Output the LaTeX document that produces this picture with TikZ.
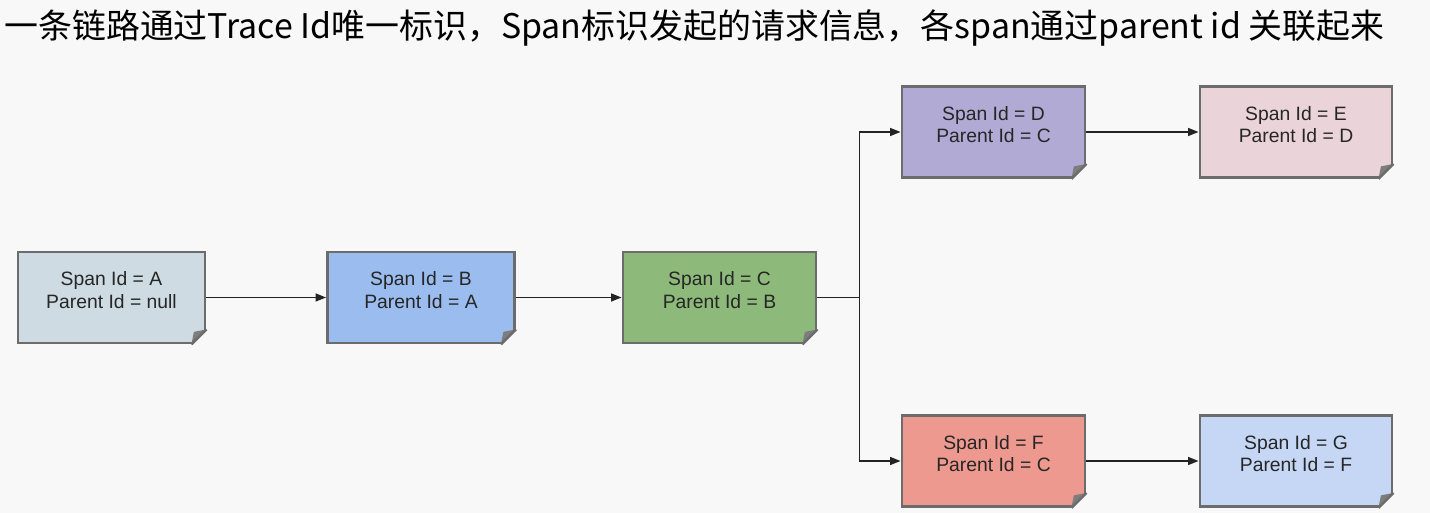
\documentclass[tikz,border=0pt]{standalone}
\usepackage{fontspec}
\usepackage{xcolor}
\usetikzlibrary{arrows.meta,calc}
\setmainfont{Liberation Sans}
\newfontfamily\cjk{Noto Sans CJK SC}
\definecolor{pagebg}{RGB}{248,248,248}
\definecolor{noteborder}{RGB}{108,108,108}
\definecolor{foldgray}{RGB}{125,125,125}
\definecolor{linkgray}{RGB}{35,35,35}
\definecolor{spanA}{RGB}{206,219,226}
\definecolor{spanB}{RGB}{154,188,238}
\definecolor{spanC}{RGB}{141,186,122}
\definecolor{spanD}{RGB}{177,170,212}
\definecolor{spanE}{RGB}{234,212,218}
\definecolor{spanF}{RGB}{238,153,143}
\definecolor{spanG}{RGB}{197,215,245}

\begin{document}
\begin{tikzpicture}[
    >={Triangle[length=6pt, width=4.5pt]},
    spannote/.style={draw=noteborder, line width=1.6pt, minimum width=3.74cm, minimum height=1.82cm,
        align=center, font=\fontsize{11}{13}\selectfont, text=black!85, text depth=0.3cm, inner sep=2pt},
    link/.style={draw=linkgray, line width=0.9pt, ->}
]

% Page background
\fill[pagebg] (0,0) rectangle (28.6,-10.26);
\useasboundingbox (0,0) rectangle (28.6,-10.26);

% Title
\node[anchor=west, inner sep=0pt, font=\cjk\fontsize{19.3}{22}\selectfont, text=black] (title) at (0.08,-0.55)
    {一条链路通过Trace Id唯一标识，Span标识发起的请求信息，各span通过parent id 关联起来};

% COLUMNS / ROWS
\def\colA{2.23}
\def\colB{8.42}
\def\colC{14.39}
\def\colD{19.87}
\def\colE{25.92}
\def\rowTop{-2.64}
\def\rowMid{-5.95}
\def\rowBot{-9.22}

% Span notes
\node[spannote, fill=spanA] (A) at (\colA, \rowMid) {Span Id = A\\Parent Id = null};
\node[spannote, fill=spanB] (B) at (\colB, \rowMid) {Span Id = B\\Parent Id = A};
\node[spannote, fill=spanC, minimum width=3.86cm] (C) at (\colC, \rowMid) {Span Id = C\\Parent Id = B};
\node[spannote, fill=spanD, minimum width=3.66cm] (D) at (\colD, \rowTop) {Span Id = D\\Parent Id = C};
\node[spannote, fill=spanE, minimum width=3.84cm] (E) at (\colE, \rowTop) {Span Id = E\\Parent Id = D};
\node[spannote, fill=spanF, minimum width=3.66cm] (F) at (\colD, \rowBot) {Span Id = F\\Parent Id = C};
\node[spannote, fill=spanG, minimum width=3.84cm] (G) at (\colE, \rowBot) {Span Id = G\\Parent Id = F};

% Folded corners
\foreach \n in {A,B,C,D,E,F,G} {
    \fill[pagebg] ($(\n.south east)+(0.03,-0.03)$) -- ($(\n.south east)+(-0.34,-0.03)$) -- ($(\n.south east)+(0.03,0.34)$) -- cycle;
    \fill[foldgray] ($(\n.south east)+(-0.3,0)$) -- ($(\n.south east)+(0,0.3)$) -- ($(\n.south east)+(-0.25,0.25)$) -- cycle;
    \draw[noteborder, line width=1.4pt, line join=round] ($(\n.south east)+(-0.3,0)$) -- ($(\n.south east)+(0,0.3)$);
}

% Links
\draw[link] (A.east) -- (B.west);
\draw[link] (B.east) -- (C.west);
\coordinate (fork) at ($(C.east)+(0.84,0)$);
\draw[draw=linkgray, line width=0.9pt] (C.east) -- (fork);
\draw[link] (fork) |- (D.west);
\draw[link] (fork) |- (F.west);
\draw[link] (D.east) -- (E.west);
\draw[link] (F.east) -- (G.west);

\end{tikzpicture}
\end{document}
